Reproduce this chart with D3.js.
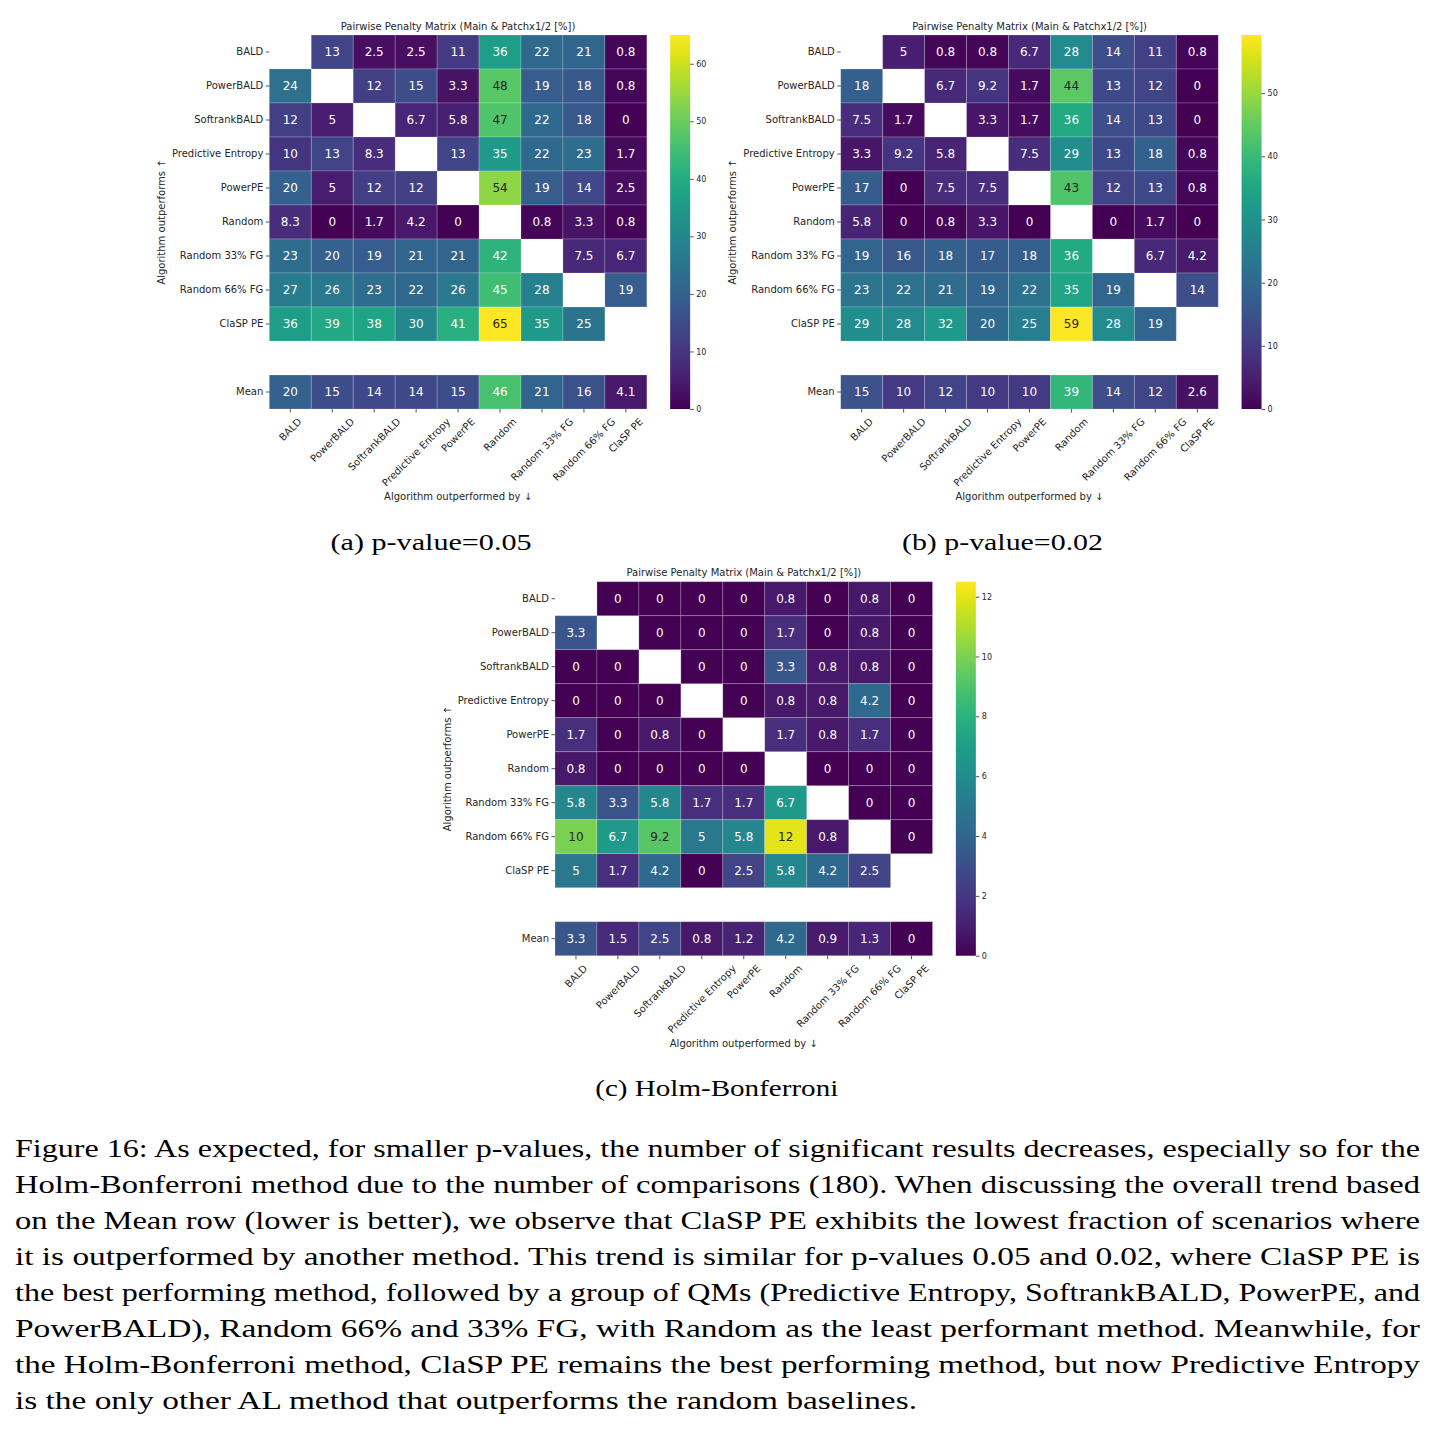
<!DOCTYPE html>
<html>
<head>
<meta charset="utf-8">
<script src="https://cdn.jsdelivr.net/npm/d3@7"></script>
<style>
  body { margin: 0; background: #fff; }
  text { font-family: "DejaVu Sans", sans-serif; fill: #262626; }
  .serif { font-family: "Liberation Serif", "DejaVu Serif", serif; fill: #000; }
</style>
</head>
<body>
<svg id="fig" width="1435" height="1434"></svg>
<script>
// Rows: algorithm that outperforms, columns: algorithm outperformed by. null = diagonal.
var algorithms = ["BALD", "PowerBALD", "SoftrankBALD", "Predictive Entropy", "PowerPE",
                  "Random", "Random 33% FG", "Random 66% FG", "ClaSP PE"];
var meanLabel = "Mean";

var penaltyA = [
  [null, 13, 2.5, 2.5, 11, 36, 22, 21, 0.8],
  [24, null, 12, 15, 3.3, 48, 19, 18, 0.8],
  [12, 5, null, 6.7, 5.8, 47, 22, 18, 0],
  [10, 13, 8.3, null, 13, 35, 22, 23, 1.7],
  [20, 5, 12, 12, null, 54, 19, 14, 2.5],
  [8.3, 0, 1.7, 4.2, 0, null, 0.8, 3.3, 0.8],
  [23, 20, 19, 21, 21, 42, null, 7.5, 6.7],
  [27, 26, 23, 22, 26, 45, 28, null, 19],
  [36, 39, 38, 30, 41, 65, 35, 25, null]
];
var meanA = [20, 15, 14, 14, 15, 46, 21, 16, 4.1];

var penaltyB = [
  [null, 5, 0.8, 0.8, 6.7, 28, 14, 11, 0.8],
  [18, null, 6.7, 9.2, 1.7, 44, 13, 12, 0],
  [7.5, 1.7, null, 3.3, 1.7, 36, 14, 13, 0],
  [3.3, 9.2, 5.8, null, 7.5, 29, 13, 18, 0.8],
  [17, 0, 7.5, 7.5, null, 43, 12, 13, 0.8],
  [5.8, 0, 0.8, 3.3, 0, null, 0, 1.7, 0],
  [19, 16, 18, 17, 18, 36, null, 6.7, 4.2],
  [23, 22, 21, 19, 22, 35, 19, null, 14],
  [29, 28, 32, 20, 25, 59, 28, 19, null]
];
var meanB = [15, 10, 12, 10, 10, 39, 14, 12, 2.6];

var penaltyC = [
  [null, 0, 0, 0, 0, 0.8, 0, 0.8, 0],
  [3.3, null, 0, 0, 0, 1.7, 0, 0.8, 0],
  [0, 0, null, 0, 0, 3.3, 0.8, 0.8, 0],
  [0, 0, 0, null, 0, 0.8, 0.8, 4.2, 0],
  [1.7, 0, 0.8, 0, null, 1.7, 0.8, 1.7, 0],
  [0.8, 0, 0, 0, 0, null, 0, 0, 0],
  [5.8, 3.3, 5.8, 1.7, 1.7, 6.7, null, 0, 0],
  [10, 6.7, 9.2, 5, 5.8, 12, 0.8, null, 0],
  [5, 1.7, 4.2, 0, 2.5, 5.8, 4.2, 2.5, null]
];
var meanC = [3.3, 1.5, 2.5, 0.8, 1.2, 4.2, 0.9, 1.3, 0];

// colour bar range tops and tick labels
var colorMax = [65, 59.2, 12.5];
var cbTicksA = [0, 10, 20, 30, 40, 50, 60];
var cbTicksB = [0, 10, 20, 30, 40, 50];
var cbTicksC = [0, 2, 4, 6, 8, 10, 12];

var plotTitle = "Pairwise Penalty Matrix (Main & Patchx1/2 [%])";
var yLabel = "Algorithm outperforms \u2191";
var xLabel = "Algorithm outperformed by \u2193";
var subCaptions = ["(a) p-value=0.05", "(b) p-value=0.02", "(c) Holm-Bonferroni"];

var captionLines = [
  "Figure 16: As expected, for smaller p-values, the number of significant results decreases, especially so for the",
  "Holm-Bonferroni method due to the number of comparisons (180). When discussing the overall trend based",
  "on the Mean row (lower is better), we observe that ClaSP PE exhibits the lowest fraction of scenarios where",
  "it is outperformed by another method. This trend is similar for p-values 0.05 and 0.02, where ClaSP PE is",
  "the best performing method, followed by a group of QMs (Predictive Entropy, SoftrankBALD, PowerPE, and",
  "PowerBALD), Random 66% and 33% FG, with Random as the least performant method. Meanwhile, for",
  "the Holm-Bonferroni method, ClaSP PE remains the best performing method, but now Predictive Entropy",
  "is the only other AL method that outperforms the random baselines."
];

var cellW = 41.95, cellH = 34;
var panels = [
  {rows: penaltyA, mean: meanA, vmax: colorMax[0], ticks: cbTicksA, left: 269.3, top: 35,
   caption: subCaptions[0], capY: 550, capW: 201},
  {rows: penaltyB, mean: meanB, vmax: colorMax[1], ticks: cbTicksB, left: 840.7, top: 35,
   caption: subCaptions[1], capY: 550, capW: 201},
  {rows: penaltyC, mean: meanC, vmax: colorMax[2], ticks: cbTicksC, left: 555, top: 581.7,
   caption: subCaptions[2], capY: 1096, capW: 243}
];

var svg = d3.select("#fig");
svg.append("rect").attr("width", 1435).attr("height", 1434).attr("fill", "#fff");

function luminance(c) {
  var rgb = d3.rgb(c);
  var f = function(v) { v /= 255; return v <= 0.03928 ? v / 12.92 : Math.pow((v + 0.055) / 1.055, 2.4); };
  return 0.2126 * f(rgb.r) + 0.7152 * f(rgb.g) + 0.0722 * f(rgb.b);
}

function drawPanel(p, idx) {
  var rowKeys = algorithms.concat(["(gap)", meanLabel]);
  var x = d3.scaleBand().domain(algorithms).range([p.left, p.left + cellW * algorithms.length]);
  var y = d3.scaleBand().domain(rowKeys).range([p.top, p.top + cellH * rowKeys.length]);
  var color = d3.scaleSequential(d3.interpolateViridis).domain([0, p.vmax]);
  var right = x.range()[1], bottom = y.range()[1];

  var cells = [];
  p.rows.forEach(function(row, i) {
    row.forEach(function(v, j) {
      if (v !== null) cells.push({r: algorithms[i], c: algorithms[j], v: v});
    });
  });
  p.mean.forEach(function(v, j) { cells.push({r: meanLabel, c: algorithms[j], v: v}); });

  var g = svg.append("g").attr("class", "panel");

  g.selectAll(".cell")
    .data(cells)
    .enter().append("rect")
      .attr("class", "cell")
      .attr("x", function(d) { return x(d.c); })
      .attr("y", function(d) { return y(d.r); })
      .attr("width", x.bandwidth())
      .attr("height", y.bandwidth())
      .attr("fill", function(d) { return color(d.v); })
      .attr("stroke", "rgba(255,255,255,0.22)")
      .attr("stroke-width", 0.9);

  g.selectAll(".annot")
    .data(cells)
    .enter().append("text")
      .attr("class", "annot")
      .attr("x", function(d) { return x(d.c) + x.bandwidth() / 2; })
      .attr("y", function(d) { return y(d.r) + y.bandwidth() / 2; })
      .attr("text-anchor", "middle")
      .attr("dominant-baseline", "central")
      .style("font-size", "12px")
      .style("fill", function(d) { return luminance(color(d.v)) > 0.408 ? "#262626" : "#ffffff"; })
      .text(function(d) { return String(d.v); });

  // y axis
  var ya = g.append("g")
      .attr("transform", "translate(" + p.left + ",0)")
      .call(d3.axisLeft(y).tickValues(algorithms.concat([meanLabel])).tickSize(3.5).tickPadding(2.5));
  // x axis
  var xa = g.append("g")
      .attr("transform", "translate(0," + bottom + ")")
      .call(d3.axisBottom(x).tickSize(3.5).tickPadding(3.5));
  [ya, xa].forEach(function(a) {
    a.select(".domain").remove();
    a.selectAll(".tick line").attr("stroke", "#262626").attr("stroke-width", 0.8);
    a.selectAll(".tick text").style("font-size", "10px").style("font-family", "DejaVu Sans").attr("fill", "#262626");
  });

  // rotated x tick labels: bounding box centred on the tick, top just below it
  xa.selectAll(".tick text").each(function() {
    var t = d3.select(this);
    var w = this.getComputedTextLength();
    var cy = 7 + (w + 11) * Math.SQRT1_2 / 2;
    t.attr("y", null).attr("dy", null)
      .attr("text-anchor", "middle")
      .attr("dominant-baseline", "central")
      .attr("transform", "translate(0," + cy + ") rotate(-45)");
  });

  // title and axis labels
  g.append("text")
    .attr("x", (p.left + right) / 2)
    .attr("y", p.top - 5.5)
    .attr("text-anchor", "middle")
    .style("font-size", "10px")
    .text(plotTitle);

  g.append("text")
    .attr("x", (p.left + right) / 2)
    .attr("y", bottom + 91)
    .attr("text-anchor", "middle")
    .style("font-size", "10px")
    .text(xLabel);

  g.append("text")
    .attr("transform", "translate(" + (p.left - 104.5) + "," + (p.top + bottom) / 2 + ") rotate(-90)")
    .attr("text-anchor", "middle")
    .style("font-size", "10px")
    .text(yLabel);

  // colour bar
  var cbX = right + 23.3, cbW = 20;
  var gradId = "viridis" + idx;
  var grad = svg.append("defs").append("linearGradient")
      .attr("id", gradId)
      .attr("x1", 0).attr("y1", 1).attr("x2", 0).attr("y2", 0);
  d3.range(0, 1.0001, 0.025).forEach(function(t) {
    grad.append("stop").attr("offset", t).attr("stop-color", d3.interpolateViridis(t));
  });
  g.append("rect")
    .attr("x", cbX).attr("y", p.top)
    .attr("width", cbW).attr("height", bottom - p.top)
    .attr("fill", "url(#" + gradId + ")");

  var cbScale = d3.scaleLinear().domain([0, p.vmax]).range([bottom, p.top]);
  var cba = g.append("g")
      .attr("transform", "translate(" + (cbX + cbW) + ",0)")
      .call(d3.axisRight(cbScale).tickValues(p.ticks).tickSize(3.5).tickPadding(2.5));
  cba.select(".domain").remove();
  cba.selectAll(".tick line").attr("stroke", "#262626").attr("stroke-width", 0.8);
  cba.selectAll(".tick text").style("font-size", "8px").style("font-family", "DejaVu Sans").attr("fill", "#262626");

  // sub caption, centred on the whole sub-figure (labels + colour bar)
  svg.append("text")
    .attr("class", "serif")
    .attr("x", (p.left + right) / 2 - 27)
    .attr("y", p.capY)
    .attr("text-anchor", "middle")
    .style("font-size", "24px")
    .attr("textLength", p.capW)
    .attr("lengthAdjust", "spacingAndGlyphs")
    .text(p.caption);
}

panels.forEach(drawPanel);

// figure caption, justified lines
var capLeft = 15, capRight = 1420, capTop = 1157, capStep = 36.05;
captionLines.forEach(function(line, i) {
  var t = svg.append("text")
    .attr("class", "serif")
    .attr("x", capLeft)
    .attr("y", capTop + i * capStep)
    .style("font-size", "25px")
    .text(line);
  var target = i < captionLines.length - 1 ? capRight - capLeft : 902;
  t.attr("textLength", target).attr("lengthAdjust", "spacingAndGlyphs");
});
</script>
</body>
</html>
